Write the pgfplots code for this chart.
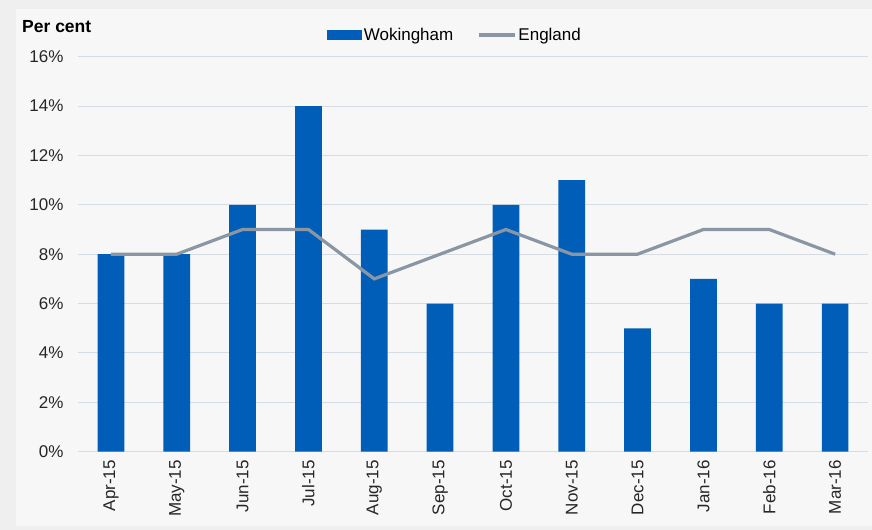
\documentclass[border=0pt]{standalone}
\usepackage{fontspec}
\setmainfont{Liberation Sans}
\usepackage{pgfplots}
\pgfplotsset{compat=1.18}
\definecolor{outerbg}{HTML}{EFEFEF}
\definecolor{innerbg}{HTML}{F7F7F7}
\definecolor{barblue}{HTML}{005EB8}
\definecolor{lineg}{HTML}{8A96A3}
\definecolor{gridc}{HTML}{D6DCE4}
\begin{document}
\begin{tikzpicture}[x=1bp,y=1bp]
\fill[outerbg] (0,0) rectangle (872,530);
\fill[innerbg] (16,4) rectangle (872,521);
\begin{axis}[
  at={(78bp,78.3bp)}, anchor=south west,
  width=790bp, height=395bp, scale only axis,
  xmin=-0.5, xmax=11.5, ymin=0, ymax=16,
  ytick={0,2,...,16},
  yticklabel={\pgfmathprintnumber{\tick}\%},
  /pgf/number format/assume math mode=true,
  ymajorgrids, grid style={gridc, line width=1bp},
  axis x line*=bottom, axis y line*=left,
  x axis line style={gridc, line width=1bp, -},
  y axis line style={draw=none},
  major tick length=0pt,
  xtick={0,...,11},
  xticklabels={Apr-15,May-15,Jun-15,Jul-15,Aug-15,Sep-15,Oct-15,Nov-15,Dec-15,Jan-16,Feb-16,Mar-16},
  x tick label style={rotate=90, anchor=east, xshift=-5bp},
  tick label style={font=\fontsize{17bp}{20bp}\selectfont, text=black!85},
  yticklabel style={xshift=-11bp},
  legend style={at={(0.477,1.055)}, anchor=center, draw=none, fill=none,
    font=\fontsize{17bp}{20bp}\selectfont, legend columns=2,
    /tikz/every even column/.append style={column sep=22bp},
    inner sep=0pt, outer sep=0pt},
  legend cell align=left,
  clip=false,
]
\addplot[ybar, bar width=26.7bp, fill=barblue, draw=none,
  legend image code/.code={\fill[barblue] (0bp,-5bp) rectangle (35bp,5bp);}]
  coordinates {(0,8) (1,8) (2,10) (3,14) (4,9) (5,6) (6,10) (7,11) (8,5) (9,7) (10,6) (11,6)};
\addlegendentry{Wokingham}
\addplot[lineg, line width=3.2bp, sharp plot, no markers,
  legend image code/.code={\draw[lineg, line width=3.2bp] (0bp,0bp) -- (36bp,0bp);}]
  coordinates {(0,8) (1,8) (2,9) (3,9) (4,7) (5,8) (6,9) (7,8) (8,8) (9,9) (10,9) (11,8)};
\addlegendentry{England}
\end{axis}
\node[anchor=west, font=\bfseries\fontsize{17.5bp}{20bp}\selectfont, inner sep=0pt] at (22,503) {Per cent};
\end{tikzpicture}
\end{document}
